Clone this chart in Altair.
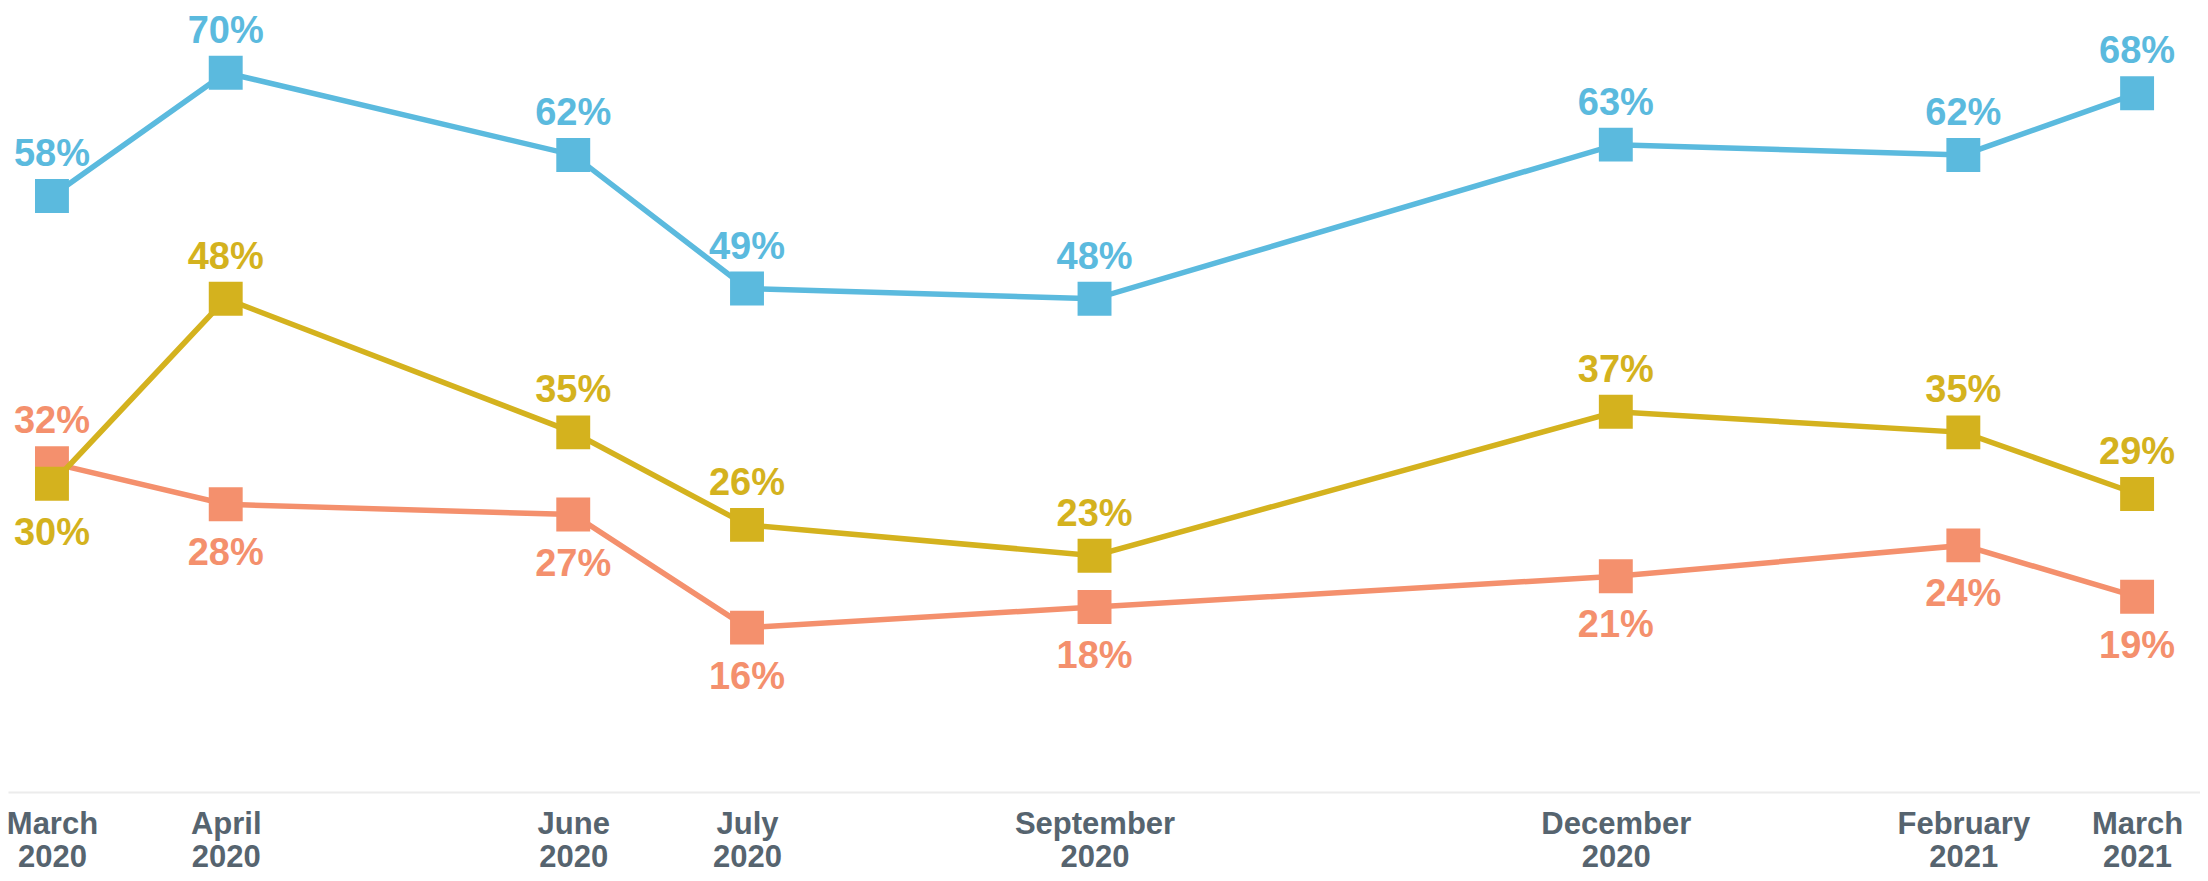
import altair as alt
import pandas as pd

# ---- data ----
month_labels = ["March 2020", "April 2020", "June 2020", "July 2020",
                "September 2020", "December 2020", "February 2021", "March 2021"]
month_offset = [0, 1, 3, 4, 6, 9, 11, 12]   # months since March 2020

series_names = ["Series A", "Series B", "Series C"]
series_a = [58, 70, 62, 49, 48, 63, 62, 68]   # blue
series_b = [30, 48, 35, 26, 23, 37, 35, 29]   # yellow
series_c = [32, 28, 27, 16, 18, 21, 24, 19]   # orange
series_colors = ["#5bbade", "#d4b21e", "#f4906d"]

rows = []
for name, vals in zip(series_names, [series_a, series_b, series_c]):
    for lab, m, v in zip(month_labels, month_offset, vals):
        rows.append({"series": name, "label": lab, "month": m, "value": v})
df = pd.DataFrame(rows)
# label goes below the point when the point is the lowest at that date
df["below"] = df.groupby("month")["value"].transform("min") == df["value"]
df["text"] = df["value"].astype(str) + "%"

FONT = "Liberation Sans"
labels_js = "[" + ",".join(f"'{l}'" for l in month_labels) + "]"
ticks_js = "[" + ",".join(str(m) for m in month_offset) + "]"

x = alt.X("month:Q",
          scale=alt.Scale(domain=[-0.253, 12.362], nice=False, zero=False),
          axis=alt.Axis(values=month_offset, title=None, grid=False, ticks=False,
                        domain=True, domainColor="#ececec", domainWidth=2,
                        labelExpr=f"split({labels_js}[indexof({ticks_js}, datum.value)], ' ')",
                        labelFont=FONT, labelFontWeight="bold", labelFontSize=31,
                        labelColor="#56646f", labelLineHeight=33, labelPadding=17,
                        labelBaseline="top", labelFlush=False, labelOverlap=False))
y = alt.Y("value:Q", scale=alt.Scale(domain=[0, 76.3], nice=False), axis=None)
color = alt.Color("series:N", scale=alt.Scale(domain=series_names, range=series_colors),
                  legend=None)

base = alt.Chart(df).encode(x=x, y=y, color=color)

layers = []
for name in ["Series C", "Series B", "Series A"]:
    b = base.transform_filter(alt.datum.series == name)
    layers.append(b.mark_line(strokeWidth=5.5))
    layers.append(b.mark_point(shape="square", filled=True, size=1150, opacity=1))

text_above = base.transform_filter("!datum.below").mark_text(
    font=FONT, fontWeight="bold", fontSize=38, baseline="alphabetic", dy=-30
).encode(text="text:N")
text_below = base.transform_filter("datum.below").mark_text(
    font=FONT, fontWeight="bold", fontSize=38, baseline="alphabetic", dy=61
).encode(text="text:N")

chart = alt.layer(*layers, text_above, text_below).properties(
    width=2192, height=784,
    autosize=alt.AutoSizeParams(type="none"),
    padding={"left": 0, "top": 0, "right": 0, "bottom": 81},
).configure_view(stroke=None)

chart.save("out.html", embed_options={"renderer": "svg", "actions": False})
